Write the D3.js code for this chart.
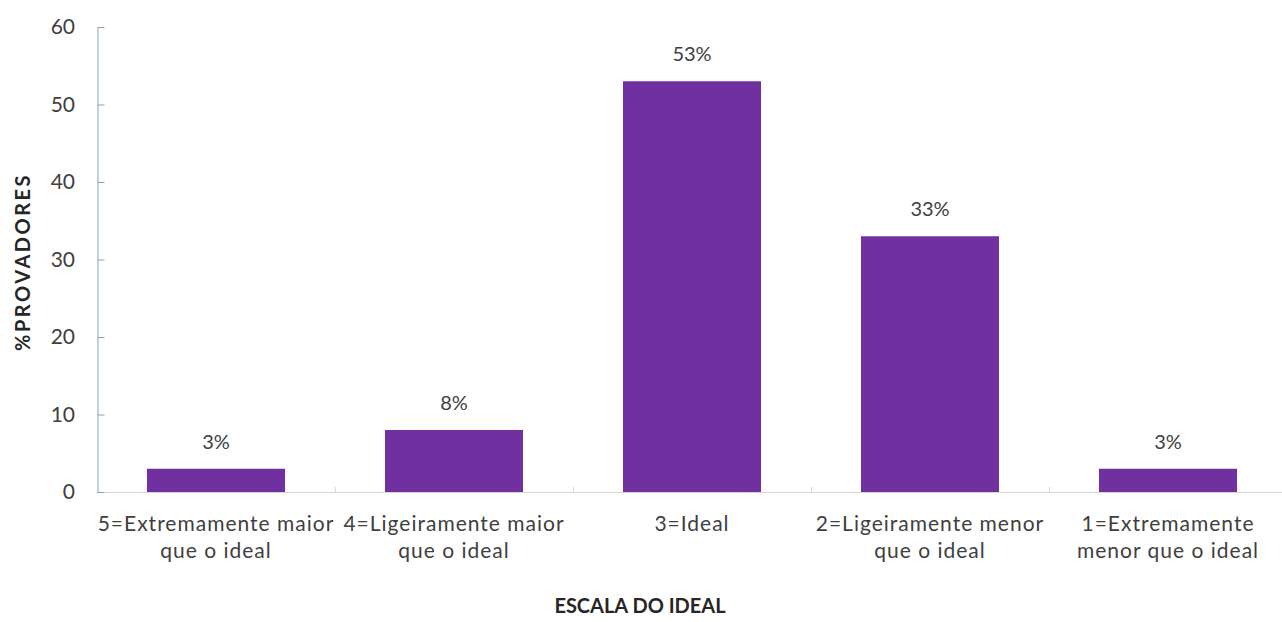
<!DOCTYPE html>
<html>
<head>
<meta charset="utf-8">
<script src="https://cdn.jsdelivr.net/npm/d3@7/dist/d3.min.js"></script>
<style>
  html, body { margin: 0; padding: 0; background: #fff; }
  svg { display: block; font-family: Lato, "Open Sans", sans-serif; }
</style>
</head>
<body>
<svg id="chart" width="1282" height="622"></svg>
<script>
var categories = [
  ['5=Extremamente maior', 'que o ideal'],
  ['4=Ligeiramente maior', 'que o ideal'],
  ['3=Ideal'],
  ['2=Ligeiramente menor', 'que o ideal'],
  ['1=Extremamente', 'menor que o ideal']
];
var values = [3, 8, 53, 33, 3];
var valueLabels = ['3%', '8%', '53%', '33%', '3%'];
var yTicks = [0, 10, 20, 30, 40, 50, 60];

(function(){
  var svg = d3.select('#chart');
  var m = { left: 97, right: 1287, top: 27, bottom: 492 };
  var textColor = '#404040';

  var x = d3.scaleBand().domain(d3.range(values.length)).range([m.left, m.right]).paddingInner(0.42).paddingOuter(0.21);
  var xb = d3.scaleBand().domain(d3.range(values.length)).range([m.left, m.right]);
  var y = d3.scaleLinear().domain([0, 60]).range([m.bottom, m.top]);

  // x axis line and boundary ticks
  svg.append('line').attr('x1', m.left).attr('x2', m.right).attr('y1', m.bottom + 0.5).attr('y2', m.bottom + 0.5)
    .attr('stroke', '#d9d9d9').attr('stroke-width', 1);
  d3.range(1, values.length).forEach(function(i){
    var bx = Math.round(xb(i)) + 0.5;
    svg.append('line').attr('x1', bx).attr('x2', bx).attr('y1', m.bottom - 5).attr('y2', m.bottom)
      .attr('stroke', '#d9d9d9');
  });

  // y axis (ticks point inward)
  var yAxis = d3.axisRight(y).tickValues(yTicks).tickSize(7).tickSizeOuter(0).tickFormat('');
  var gy = svg.append('g').attr('transform', 'translate(' + (m.left + 0.5) + ',0)').call(yAxis);
  gy.select('.domain').attr('stroke', '#8aa4bd');
  gy.selectAll('.tick line').attr('stroke', '#8aa4bd');
  svg.selectAll('.ylab').data(yTicks).enter().append('text')
    .attr('x', 75).attr('y', function(d){ return y(d); }).attr('dy', '0.35em')
    .attr('text-anchor', 'end').attr('font-size', 21).attr('fill', textColor)
    .text(function(d){ return d; });

  // bars
  svg.selectAll('.bar').data(values).enter().append('rect')
    .attr('x', function(d, i){ return x(i); })
    .attr('y', function(d){ return y(d); })
    .attr('width', x.bandwidth())
    .attr('height', function(d){ return m.bottom - y(d); })
    .attr('fill', '#7030a0');

  // value labels
  svg.selectAll('.vlab').data(values).enter().append('text')
    .attr('x', function(d, i){ return x(i) + x.bandwidth() / 2; })
    .attr('y', function(d){ return y(d) - 20; })
    .attr('text-anchor', 'middle').attr('font-size', 20).attr('fill', textColor)
    .text(function(d, i){ return valueLabels[i]; });

  // category labels
  categories.forEach(function(lines, i){
    var cx = xb(i) + xb.bandwidth() / 2;
    var t = svg.append('text').attr('text-anchor', 'middle').attr('font-size', 21)
      .attr('letter-spacing', 1).attr('fill', textColor).attr('y', 531);
    lines.forEach(function(l, j){
      t.append('tspan').attr('x', cx).attr('dy', j ? 27 : 0).text(l);
    });
  });

  // axis titles
  svg.append('text').attr('x', 640).attr('y', 613).attr('text-anchor', 'middle')
    .attr('font-size', 20).attr('font-weight', 'bold').attr('fill', '#262626').text('ESCALA DO IDEAL');
  svg.append('text').attr('transform', 'translate(30,262) rotate(-90)').attr('text-anchor', 'middle')
    .attr('font-size', 20).attr('font-weight', 'bold').attr('letter-spacing', 2.5).attr('fill', '#262626').text('%PROVADORES');
})();
</script>
</body>
</html>
